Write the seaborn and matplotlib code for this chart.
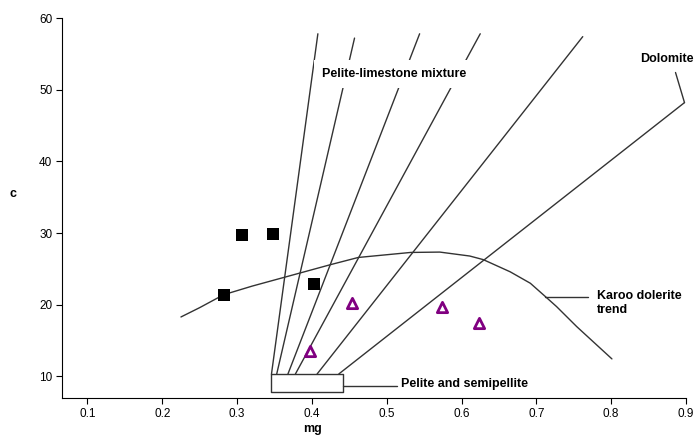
import seaborn as sns
import pandas as pd
import matplotlib
matplotlib.use('Agg')
import matplotlib.pyplot as plt

# sample points
square_mg = [0.282, 0.306, 0.348, 0.403]
square_c = [21.4, 29.8, 29.9, 22.9]
tri_mg = [0.398, 0.453, 0.574, 0.624]
tri_c = [13.6, 20.2, 19.75, 17.4]

# Karoo dolerite trend (hand traced)
karoo_mg = [0.225, 0.250, 0.282, 0.320, 0.362, 0.425, 0.462, 0.532, 0.571, 0.611,
            0.629, 0.665, 0.692, 0.712, 0.727, 0.754, 0.801]
karoo_c = [18.3, 19.6, 21.4, 22.6, 23.8, 25.6, 26.6, 27.3, 27.35, 26.8,
           26.3, 24.6, 23.0, 21.15, 19.75, 16.95, 12.45]

# mixing lines: start on top of pelite box, end towards limestone / dolomite
mix_start_mg = [0.346, 0.353, 0.368, 0.378, 0.407, 0.436]
mix_start_c = [10.35, 10.35, 10.35, 10.35, 10.35, 10.35]
mix_end_mg = [0.408, 0.457, 0.544, 0.625, 0.762, 0.898]
mix_end_c = [57.8, 57.2, 57.8, 57.8, 57.4, 48.2]

# pelite / semipelite box
box_mg = [0.346, 0.441, 0.441, 0.346, 0.346]
box_c = [10.35, 10.35, 7.85, 7.85, 10.35]

xticks = [0.1, 0.2, 0.3, 0.4, 0.5, 0.6, 0.7, 0.8, 0.9]
yticks = [10, 20, 30, 40, 50, 60]

sns.set_style('ticks')
plt.rcParams['font.family'] = ['Liberation Sans', 'DejaVu Sans']
plt.rcParams['text.color'] = 'black'

fig = plt.figure(figsize=(6.98, 4.36), dpi=100)
ax = fig.add_axes([0.0888, 0.0872, 0.894, 0.8715])

line_col = '#333333'
for x0, y0, x1, y1 in zip(mix_start_mg, mix_start_c, mix_end_mg, mix_end_c):
    ax.plot([x0, x1], [y0, y1], color=line_col, lw=1.0, zorder=1)

ax.plot(box_mg, box_c, color=line_col, lw=1.0, zorder=1)

karoo = pd.DataFrame({'mg': karoo_mg, 'c': karoo_c})
sns.lineplot(data=karoo, x='mg', y='c', sort=False, color=line_col, lw=1.0, ax=ax, zorder=2)

sq = pd.DataFrame({'mg': square_mg, 'c': square_c})
sns.scatterplot(data=sq, x='mg', y='c', marker='s', s=80, color='black',
                edgecolor='black', linewidth=0, ax=ax, zorder=4)
tr = pd.DataFrame({'mg': tri_mg, 'c': tri_c})
sns.scatterplot(data=tr, x='mg', y='c', marker='^', s=55, facecolor='white',
                edgecolor='#800080', linewidth=2, ax=ax, zorder=4)

# labels
ax.text(0.51, 52.2, 'Pelite-limestone mixture', fontsize=9, fontweight='bold',
        ha='center', va='center', zorder=3, color='black',
        bbox=dict(facecolor='white', edgecolor='none', pad=5.5))
ax.text(0.875, 54.3, 'Dolomite', fontsize=9, fontweight='bold', color='black',
        ha='center', va='center', clip_on=False)
ax.plot([0.898, 0.886], [48.2, 52.4], color=line_col, lw=1.0, clip_on=False)

ax.plot([0.441, 0.514], [8.7, 8.7], color=line_col, lw=1.0)
ax.text(0.519, 8.9, 'Pelite and semipellite', fontsize=9, fontweight='bold',
        ha='left', va='center', color='black')

ax.plot([0.712, 0.7695], [21.15, 21.15], color=line_col, lw=1.0)
ax.text(0.781, 20.2, 'Karoo dolerite\ntrend', fontsize=9, fontweight='bold',
        ha='left', va='center', color='black')

ax.set_xlim(0.066, 0.9)
ax.set_ylim(7.0, 60)
ax.set_xticks(xticks)
ax.set_yticks(yticks)
ax.set_xticklabels([str(t) for t in xticks])
ax.set_yticklabels([str(t) for t in yticks])
ax.tick_params(labelsize=8.5, length=4, width=0.8, colors='black', pad=3)
for s in ['left', 'bottom']:
    ax.spines[s].set_linewidth(0.8)
    ax.spines[s].set_color('black')
sns.despine(ax=ax)

ax.set_xlabel('mg', fontsize=9, fontweight='bold', color='black')
ax.set_ylabel('c', fontsize=9, fontweight='bold', rotation=0, color='black')
ax.xaxis.set_label_coords(0.402, -0.065)
ax.yaxis.set_label_coords(-0.079, 0.52)

fig.savefig('out.png', dpi=100)
